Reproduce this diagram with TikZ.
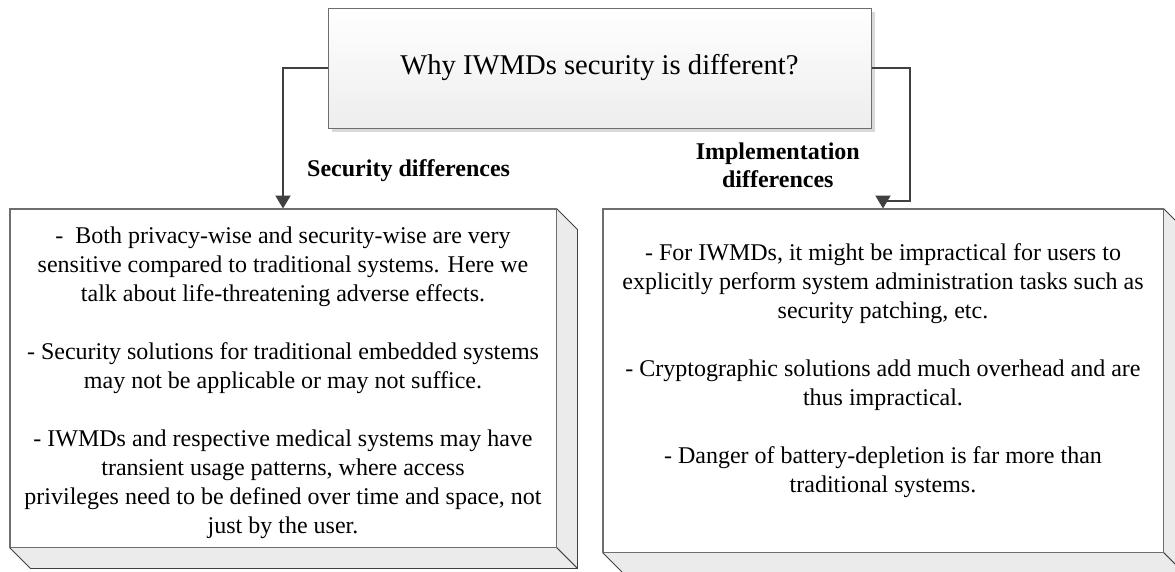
\documentclass[tikz,border=0pt]{standalone}
\usepackage{fontspec}
\setmainfont{Liberation Serif}
\usetikzlibrary{shadows,calc,arrows.meta}
\definecolor{linec}{HTML}{404040}
\definecolor{boxc}{HTML}{6E6E6E}
\definecolor{sidec}{HTML}{EBEBEB}
\tikzset{
  topbox/.style={draw=boxc, line width=1pt, minimum width=543pt, minimum height=120pt,
    top color=white, bottom color=black!7, inner sep=0pt,
    drop shadow={shadow xshift=4pt, shadow yshift=-4pt, fill=black!15, opacity=1},
    font=\fontsize{28.6}{32}\selectfont},
  frontbox/.style={draw=boxc, line width=1pt, fill=white, inner sep=0pt},
  sideface/.style={fill=sidec, draw=linec, line width=0.8pt, line join=round},
  bodytext/.style={align=center, inner sep=0pt, font=\fontsize{24}{29}\selectfont},
  lbl/.style={align=center, inner sep=0pt, font=\bfseries\fontsize{24}{28}\selectfont},
  conn/.style={draw=linec, line width=2pt, -{Triangle[length=13pt,width=15pt]}}
}
\begin{document}
\begin{tikzpicture}[x=1pt,y=-1pt]
\useasboundingbox (0,0) rectangle (1175,571);

% top box
\node[topbox] (top) at (599.5,68) {Why IWMDs security is different?};

% left box
\node[frontbox, minimum width=546pt, minimum height=338pt] (lbox) at (283,378) {};
\draw[sideface] (lbox.north east) -- ++(21,21) -- ($(lbox.south east)+(21,21)$) -- (lbox.south east) -- cycle;
\draw[sideface] (lbox.south west) -- ++(21,21) -- ($(lbox.south east)+(21,21)$) -- (lbox.south east) -- cycle;
\draw[boxc, line width=1pt] (lbox.north west) rectangle (lbox.south east);

% right box
\node[frontbox, minimum width=560pt, minimum height=343pt] (rbox) at (883,380.5) {};
\draw[sideface] (rbox.north east) -- ++(21,21) -- ($(rbox.south east)+(21,21)$) -- (rbox.south east) -- cycle;
\draw[sideface] (rbox.south west) -- ++(21,21) -- ($(rbox.south east)+(21,21)$) -- (rbox.south east) -- cycle;
\draw[boxc, line width=1pt] (rbox.north west) rectangle (rbox.south east);

% texts
\node[bodytext] (ltext) at (283,382.5) {-\ \ Both privacy-wise and security-wise are very\\
sensitive compared to traditional systems. Here we\\
talk about life-threatening adverse effects.\\[29pt]
- Security solutions for traditional embedded systems\\
may not be applicable or may not suffice.\\[29pt]
- IWMDs and respective medical systems may have\\
transient usage patterns, where access\\
privileges need to be defined over time and space, not\\
just by the user.};

\node[bodytext] (rtext) at (883,370.5) {- For IWMDs, it might be impractical for users to\\
explicitly perform system administration tasks such as\\
security patching, etc.\\[29pt]
- Cryptographic solutions add much overhead and are\\
thus impractical.\\[29pt]
- Danger of battery-depletion is far more than\\
traditional systems.};

% labels
\node[lbl, anchor=base west] (lsec) at (307,176) {Security differences};
\node[lbl, anchor=north east] (limp) at (860,143) {Implementation\\differences};

% connectors
\draw[conn] (top.west) -| (lbox.north);
\coordinate (rturn) at ($(rbox.north)+(0,-8)$);
\draw[conn] (top.east) -- ++(38,0) |- (rturn) -- (rbox.north);
\end{tikzpicture}
\end{document}
